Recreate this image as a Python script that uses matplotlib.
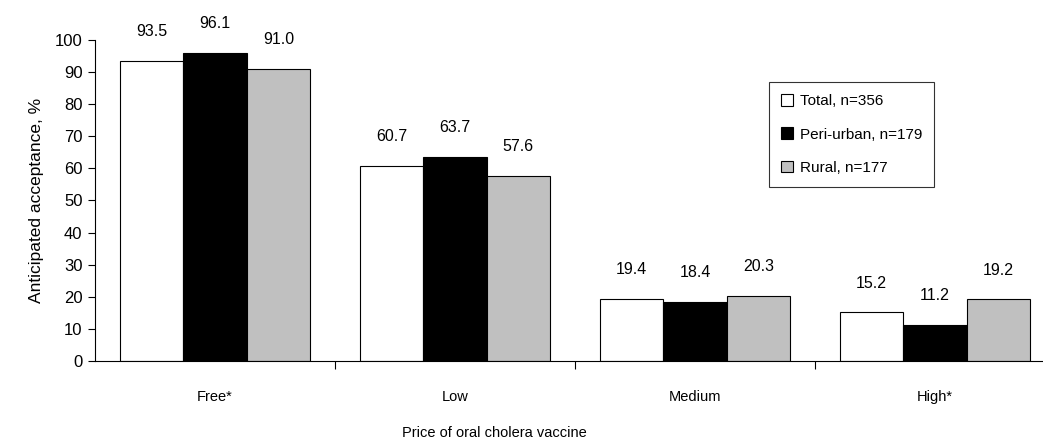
import numpy as np
import matplotlib.pyplot as plt

plt.rcParams['font.family'] = ['Liberation Sans', 'DejaVu Sans']

categories = ["Free*", "Low", "Medium", "High*"]
total = [93.5, 60.7, 19.4, 15.2]
peri_urban = [96.1, 63.7, 18.4, 11.2]
rural = [91.0, 57.6, 20.3, 19.2]
series_labels = ["Total, n=356", "Peri-urban, n=179", "Rural, n=177"]
colors = ["white", "black", "#c0c0c0"]

fig = plt.figure(figsize=(10.43, 4.48), dpi=100)
ax = fig.add_axes([95/1043, 87/448, 948/1043, 321/448])

x = np.arange(len(categories))
w = 0.264
for k, (vals, col, lab) in enumerate(zip([total, peri_urban, rural], colors, series_labels)):
    pos = x + (k - 1) * w
    ax.bar(pos, vals, width=w, color=col, edgecolor="black", linewidth=0.8, label=lab)
    for xp, v in zip(pos, vals):
        ax.annotate(f"{v:.1f}", (xp, v), xytext=(0, 21), textcoords="offset points",
                    ha="center", va="center", fontsize=11.5)

ax.set_xlim(-0.5, 3.45)
ax.set_ylim(0, 100)
ax.set_yticks(range(0, 101, 10))
ax.tick_params(axis="y", direction="out", length=5, width=0.8, labelsize=12, pad=4)
ax.set_xticks(x)
ax.set_xticklabels(categories, fontsize=10.5)
ax.tick_params(axis="x", which="major", length=0, pad=21)
ax.set_xticks([0.5, 1.5, 2.5], minor=True)
ax.tick_params(axis="x", which="minor", direction="out", length=6, width=0.8)

for s in ["top", "right"]:
    ax.spines[s].set_visible(False)
for s in ["left", "bottom"]:
    ax.spines[s].set_linewidth(0.8)

ax.set_ylabel("Anticipated acceptance, %", fontsize=12.5, labelpad=8)
fig.text(494/1043, 1 - 433/448, "Price of oral cholera vaccine", ha="center", va="center",
         fontsize=10.5)

leg = ax.legend(loc="upper left", bbox_to_anchor=(769/1043, 1 - 82/448), bbox_transform=fig.transFigure,
                frameon=True, fancybox=False, edgecolor="black", fontsize=11,
                handlelength=0.8, handleheight=0.8, handletextpad=0.4, labelspacing=1.25,
                borderpad=0.8, borderaxespad=0)
leg.get_frame().set_linewidth(0.8)

fig.savefig("out.png", dpi=100)
